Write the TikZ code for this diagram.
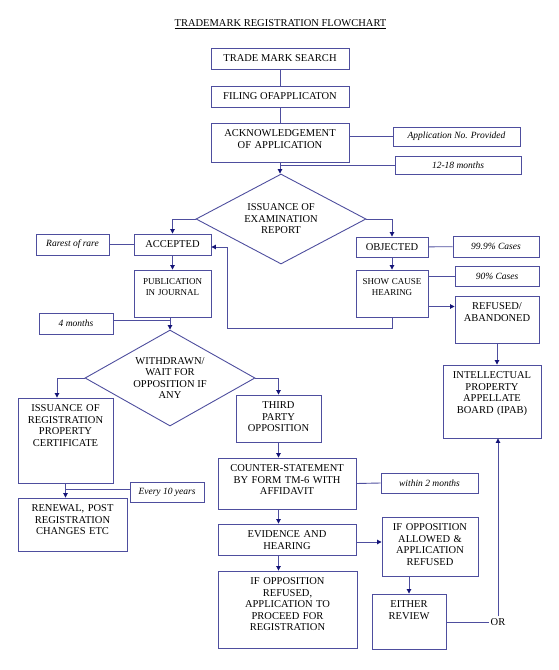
\documentclass[tikz,border=0pt]{standalone}
\usepackage{fontspec}
\setmainfont{Liberation Serif}
\usetikzlibrary{shapes.geometric,arrows.meta}
\definecolor{boxc}{RGB}{78,78,158}
\definecolor{tipc}{RGB}{20,20,120}

\begin{document}
\begin{tikzpicture}[x=1pt,y=-1pt]
	\tikzstyle{every node}+=[inner sep=3pt, font=\fontsize{10.5}{11.5}\selectfont]
	\tikzstyle{box}=[draw=boxc, line width=0.9pt, align=center]
	\tikzstyle{tbox}=[box, text height=10.5pt]
	\tikzstyle{smallbox}=[tbox, text height=11pt, font=\fontsize{9}{11}\selectfont]
	\tikzstyle{note}=[draw=boxc, line width=0.9pt, font=\fontsize{9.5}{11}\selectfont\itshape]
	\tikzstyle{decide}=[diamond, draw=boxc, line width=0.9pt, aspect=1.8, inner sep=0pt, align=center]
	\tikzstyle{link}=[draw=boxc, line width=0.9pt]
	\tikzstyle{flow}=[link, -{Triangle[length=4.5pt,width=4.5pt,color=tipc]}]
	\useasboundingbox (0,0) rectangle (559,670);
	% title
	\draw (280.5,24) node (title) {\underline{TRADEMARK REGISTRATION FLOWCHART}};
	% filing
	\draw (280,58.5) node [box, minimum width=138pt, minimum height=21pt] (search) {TRADE MARK SEARCH};
	\draw (280,96.5) node [box, minimum width=138pt, minimum height=21pt] (filing) {FILING OFAPPLICATON};
	\draw (280,142.5) node [tbox, text width=132pt, text depth=22.5pt] (ack) {ACKNOWLEDGEMENT\\OF APPLICATION};
	\draw (456.5,136.5) node [note, minimum width=127pt, minimum height=19pt] (appno) {Application No. Provided};
	\draw (458,165) node [note, minimum width=126pt, minimum height=18pt] (months12) {12-18 months};
	\draw (281,219) node [decide, minimum width=170pt, minimum height=90pt] (exam) {ISSUANCE OF\\EXAMINATION\\REPORT};
	% accepted side
	\draw (172.5,244.5) node [box, minimum width=77pt, minimum height=21pt] (accepted) {ACCEPTED};
	\draw (72.5,244.5) node [note, minimum width=73pt, minimum height=21pt] (rarest) {Rarest of rare};
	\draw (172.5,293.5) node [smallbox, text width=71pt, text depth=30pt] (publication) {PUBLICATION\\IN JOURNAL};
	\draw (76,323.5) node [note, minimum width=74pt, minimum height=21pt] (months4) {4 months};
	\draw (170,378) node [decide, minimum width=170pt, minimum height=96pt] (withdrawn) {WITHDRAWN/\\WAIT FOR\\OPPOSITION IF\\ANY};
	\draw (65.5,440.5) node [tbox, text width=89pt, text depth=68.5pt] (issreg) {ISSUANCE OF\\REGISTRATION\\PROPERTY\\CERTIFICATE};
	\draw (167,492) node [note, minimum width=74pt, minimum height=20pt] (every10) {Every 10 years};
	\draw (72.5,524.5) node [tbox, text width=103pt, text depth=36.5pt] (renewal) {RENEWAL, POST\\REGISTRATION\\CHANGES ETC};
	% opposition
	\draw (278.5,418.5) node [tbox, text width=79pt, text depth=30.5pt] (third) {THIRD\\PARTY\\OPPOSITION};
	\draw (287,483.5) node [tbox, text width=132pt, text depth=34.5pt] (counter) {COUNTER-STATEMENT\\BY FORM TM-6 WITH\\AFFIDAVIT};
	\draw (429.5,483) node [note, minimum width=97pt, minimum height=20pt] (within2) {within 2 months};
	\draw (287,539.5) node [tbox, text width=132pt, text depth=14.5pt] (evidence) {EVIDENCE AND\\HEARING};
	\draw (430,546.5) node [tbox, text width=90pt, text depth=42.5pt] (allowed) {IF OPPOSITION\\ALLOWED \&\\APPLICATION\\REFUSED};
	\draw (287.5,609.5) node [tbox, text width=133pt, text depth=60.5pt] (oppref) {IF OPPOSITION\\REFUSED,\\APPLICATION TO\\PROCEED FOR\\REGISTRATION};
	\draw (409,621.5) node [tbox, text width=68pt, text depth=38.5pt] (either) {EITHER\\REVIEW};
	\draw (498,622) node [inner sep=2pt] (orlabel) {OR};
	% objected side
	\draw (392,247) node [box, minimum width=72pt, minimum height=20pt] (objected) {OBJECTED};
	\draw (496,246.5) node [note, minimum width=86pt, minimum height=21pt] (cases999) {99.9\% Cases};
	\draw (392,293.5) node [smallbox, text width=66pt, text depth=30pt] (showcause) {SHOW CAUSE\\HEARING};
	\draw (497,276) node [note, minimum width=84pt, minimum height=20pt] (cases90) {90\% Cases};
	\draw (497,319.5) node [tbox, text width=78pt, text depth=30.5pt] (refused) {REFUSED/\\ABANDONED};
	\draw (492,401.5) node [tbox, text width=92pt, text depth=56.5pt] (ipab) {INTELLECTUAL\\PROPERTY\\APPELLATE\\BOARD (IPAB)};
	% connectors
	\draw [link] (search) -- (filing);
	\draw [link] (filing) -- (ack);
	\draw [link] (appno.west) -- (appno.west -| ack.east);
	\draw [flow] (ack.south) -- (ack.south |- exam.north);
	\draw [link] (months12.west) -- (months12.west -| ack.south);
	\draw [flow] (exam.west) -| (accepted.north);
	\draw [flow] (exam.east) -| (objected.north);
	\draw [link] (rarest) -- (accepted);
	\draw [flow] (accepted) -- (publication);
	\draw [flow] (withdrawn.north |- publication.south) -- (withdrawn.north);
	\coordinate (m4) at ([yshift=3.5pt]months4.east);
	\draw [link] (m4) -- (m4 -| withdrawn.north);
	\draw [link] (objected) -- (cases999);
	\draw [flow] (objected) -- (showcause);
	\draw [link] (cases90.west) -- (cases90.west -| showcause.east);
	\coordinate (refin) at ([yshift=13pt]refused.west);
	\draw [flow] (refin -| showcause.east) -- (refin);
	\coordinate (loopturn) at (227,328);
	\draw [flow] (showcause.south) |- (loopturn) |- ([yshift=-2.5pt]accepted.east);
	\draw [flow] (refused.south) -- (refused.south |- ipab.north);
	\draw [flow] (withdrawn.west) -| ([xshift=-8.5pt]issreg.north);
	\draw [flow] (issreg.south) -- (issreg.south |- renewal.north);
	\coordinate (e10) at ([yshift=3pt]every10.west);
	\draw [link] (e10) -- (e10 -| issreg.south);
	\draw [flow] (withdrawn.east) -| (third.north);
	\draw [flow] (third.south) -- (third.south |- counter.north);
	\draw [link] (counter.east) -- (within2.west);
	\draw [flow] (counter.south -| third.south) -- (evidence.north -| third.south);
	\coordinate (ev) at ([yshift=-2.5pt]evidence.east);
	\draw [flow] (ev) -- (ev -| allowed.west);
	\draw [flow] (evidence.south -| third.south) -- (oppref.north -| third.south);
	\draw [flow] (allowed.south -| either.north) -- (either.north);
	\draw [link] (either.east |- orlabel.west) -- (orlabel.west);
	\draw [flow] (orlabel.north) -- (orlabel.north |- ipab.south);
\end{tikzpicture}
\end{document}
